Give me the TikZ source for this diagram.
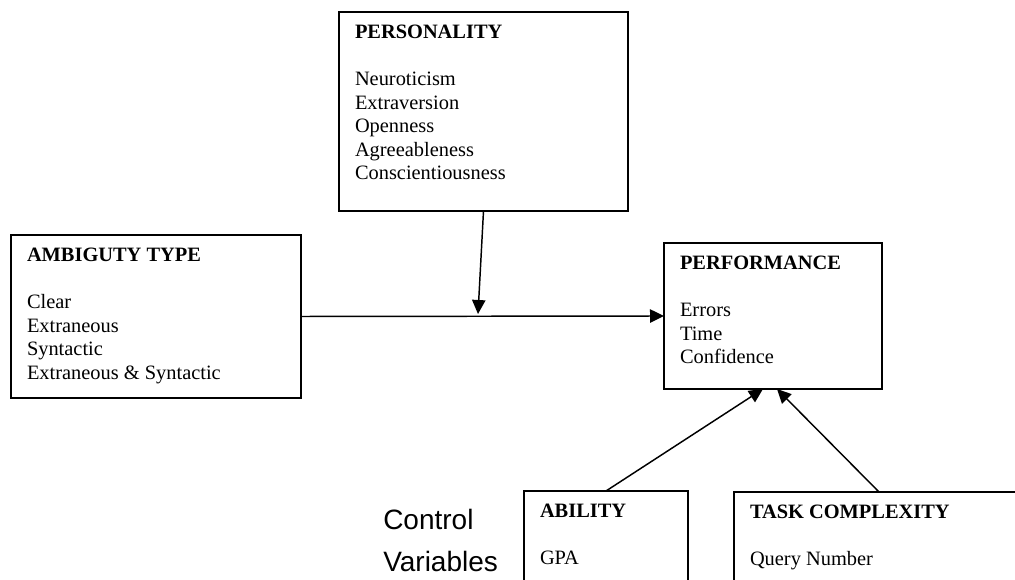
\documentclass[tikz,border=0pt]{standalone}
\usepackage{fontspec}
\setmainfont{Liberation Serif}
\newfontfamily\ctrlfont{Liberation Sans}
\usetikzlibrary{arrows.meta}
\newcommand{\boxtext}[3]{\parbox[c][#1][t]{#2}{\fontsize{15.3pt}{17.6pt}\selectfont #3}}

\begin{document}
\begin{tikzpicture}[x=0.75pt, y=-0.75pt,
  bx/.style={draw, line width=1.2pt, inner xsep=12pt, inner ysep=10pt, outer sep=0pt, anchor=north west},
  fl/.style={-{Triangle[length=10.5pt, width=10pt]}, line width=1.1pt}]
  \useasboundingbox (0,0) rectangle (1015,580);
  \clip (0,0) rectangle (1015,580);
  \node[bx] (pers) at (339,12) {\boxtext{129.25pt}{192.75pt}{\textbf{PERSONALITY}\\[17.6pt]
    Neuroticism\\ Extraversion\\ Openness\\ Agreeableness\\ Conscientiousness}};
  \node[bx] (ambig) at (11,235) {\boxtext{102.25pt}{193.5pt}{\textbf{AMBIGUTY TYPE}\\[17.6pt]
    Clear\\ Extraneous\\ Syntactic\\ Extraneous \& Syntactic}};
  \node[bx] (perf) at (664,243) {\boxtext{89.5pt}{139.5pt}{\textbf{PERFORMANCE}\\[17.6pt]
    Errors\\ Time\\ Confidence}};
  \node[bx] (abil) at (524,491) {\boxtext{77.5pt}{99pt}{\textbf{ABILITY}\\[17.6pt] GPA}};
  \node[bx] (task) at (734,492) {\boxtext{77.5pt}{193.5pt}{\textbf{TASK COMPLEXITY}\\[17.6pt] Query Number}};
  \node[anchor=base west, inner sep=0pt] (ctrl) at (383,530)
    {\parbox[t]{110pt}{\ctrlfont\fontsize{21pt}{31.5pt}\selectfont Control\\ Variables}};
  \coordinate (mod) at (478,314);
  \draw[fl] (ambig.east) -- (perf.west);
  \draw[fl] (pers.south) -- (mod);
  \draw[fl] (abil.north) -- ([xshift=-7.5pt]perf.south);
  \draw[fl] (task.north) -- ([xshift=3pt]perf.south);
\end{tikzpicture}
\end{document}
